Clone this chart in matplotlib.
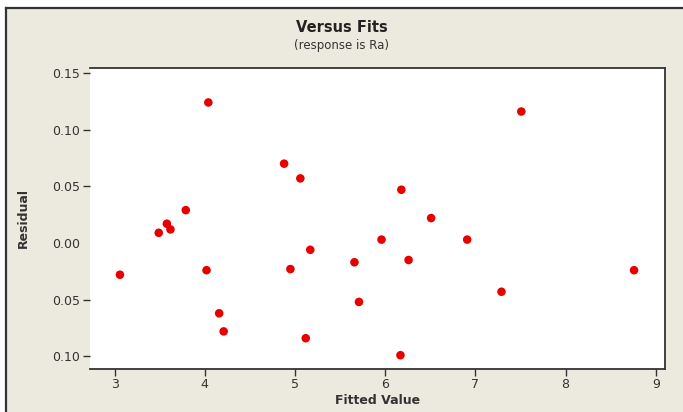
import matplotlib
matplotlib.use("Agg")
import matplotlib.pyplot as plt
from matplotlib.lines import Line2D
from matplotlib.patches import Rectangle

# fitted values and residuals
fitted = [3.06, 4.04, 4.88, 5.06, 3.79, 3.58, 3.62, 3.49, 5.17, 4.02,
          4.95, 5.66, 5.71, 4.16, 4.21, 5.12, 5.96, 7.51, 6.18, 6.51,
          6.91, 6.26, 8.76, 7.29, 6.17]
residual = [-0.028, 0.124, 0.070, 0.057, 0.029, 0.017, 0.012, 0.009, -0.006, -0.024,
            -0.023, -0.017, -0.052, -0.062, -0.078, -0.084, 0.003, 0.116, 0.047, 0.022,
            0.003, -0.015, -0.024, -0.043, -0.099]

x_ticks = [3, 4, 5, 6, 7, 8, 9]
y_ticks = [0.15, 0.10, 0.05, 0.00, -0.05, -0.10]
y_tick_labels = ["0.15", "0.10", "0.05", "0.00", "0.05", "0.10"]

bg = "#ECE9DE"

fig = plt.figure(figsize=(6.83, 4.12), dpi=100, facecolor="white")
fig.add_artist(Rectangle((6 / 683, 0), 1, 1 - 8 / 412, transform=fig.transFigure,
                         facecolor=bg, edgecolor="none", zorder=0))
fig.add_artist(Line2D([6 / 683, 1], [1 - 8 / 412, 1 - 8 / 412], transform=fig.transFigure,
                      color="#333333", lw=1.6))
fig.add_artist(Line2D([6 / 683, 6 / 683], [0, 1 - 8 / 412], transform=fig.transFigure,
                      color="#333333", lw=1.6))

ax = fig.add_axes([90 / 683, 1 - 368.7 / 412, (665 - 90) / 683, (368.7 - 68) / 412])
ax.set_facecolor("white")
ax.scatter(fitted, residual, s=38, color="#E80000", edgecolors="none", zorder=3)

ax.set_xlim(2.728, 9.103)
ax.set_ylim(-0.1109, 0.1544)
ax.set_xticks(x_ticks)
ax.set_yticks(y_ticks)
ax.set_yticklabels(y_tick_labels)
ax.tick_params(direction="out", length=5, width=1, color="#333333",
               labelsize=9, labelcolor="#333333", pad=2)
ax.yaxis.get_major_ticks()[3].tick1line.set_visible(False)

ax.spines["left"].set_visible(False)
for side in ["top", "right", "bottom"]:
    ax.spines[side].set_color("#333333")
    ax.spines[side].set_linewidth(1.3)

ax.set_xlabel("Fitted Value", fontsize=9, fontweight="bold", color="#333333", labelpad=2)
ax.set_ylabel("Residual", fontsize=9, fontweight="bold", color="#333333", labelpad=16)

fig.text(0.5, 1 - 27 / 412, "Versus Fits", ha="center", va="center",
         fontsize=10.5, fontweight="bold", color="#222222")
fig.text(0.5, 1 - 46 / 412, "(response is Ra)", ha="center", va="center",
         fontsize=8.5, color="#333333")

fig.savefig("out.png", dpi=100, facecolor=fig.get_facecolor())
